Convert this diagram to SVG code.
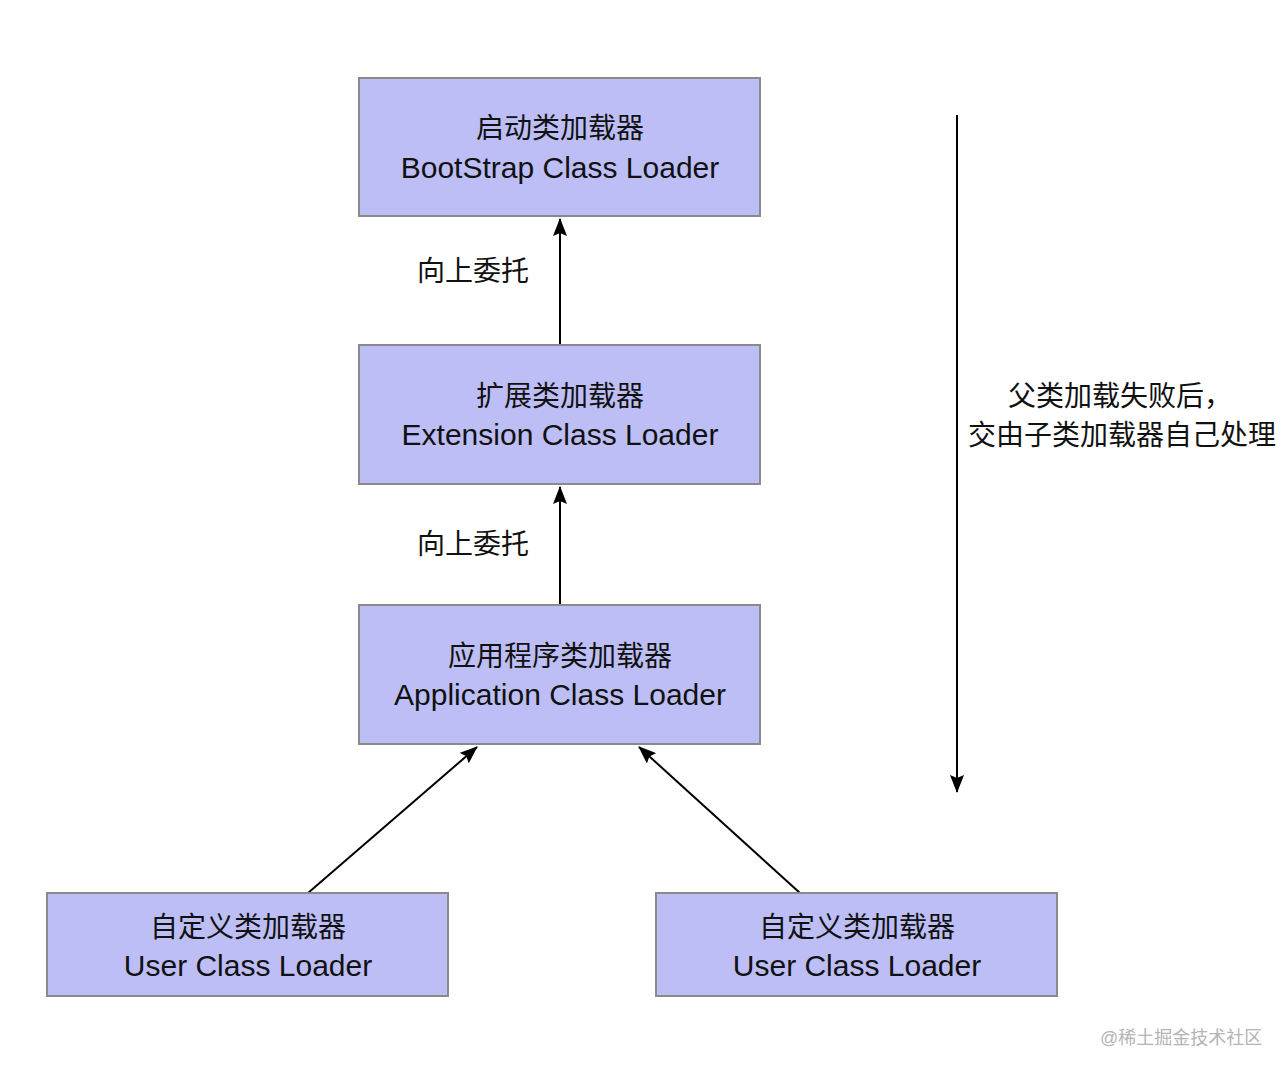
<svg xmlns="http://www.w3.org/2000/svg" width="1288" height="1074" viewBox="0 0 1288 1074">
<defs>
<style>
.box{fill:#bdbef6;stroke:#8a8a8a;stroke-width:2}
.t{font-family:"Liberation Sans","Noto Sans CJK SC",sans-serif;font-size:28px;fill:#111;text-anchor:middle}
.e{font-size:30px}
.c{fill:none;stroke:#000;stroke-width:2}
.wm{font-family:"Liberation Sans","Noto Sans CJK SC",sans-serif;font-size:18px;fill:#b4b4b4}
</style>
<marker id="a" viewBox="0 0 18 14" refX="17" refY="7" markerWidth="18" markerHeight="14" markerUnits="userSpaceOnUse" orient="auto">
<path d="M0,0 L18,7 L0,14 L3,7 z" fill="#000"/>
</marker>
</defs>
<rect width="1288" height="1074" fill="#fff"/>
<g id="connectors">
<line class="c" x1="560" y1="345" x2="560" y2="219" marker-end="url(#a)"/>
<line class="c" x1="560" y1="605" x2="560" y2="487" marker-end="url(#a)"/>
<line class="c" x1="308" y1="893" x2="477" y2="747" marker-end="url(#a)"/>
<line class="c" x1="800" y1="893" x2="639" y2="747" marker-end="url(#a)"/>
<line class="c" x1="957" y1="115" x2="957" y2="792" marker-end="url(#a)"/>
<text class="t" x="473" y="281">向上委托</text>
<text class="t" x="473" y="554">向上委托</text>
</g>
<g id="bootstrap">
<rect class="box" x="359" y="78" width="401" height="138"/>
<text class="t" x="560" y="138">启动类加载器</text>
<text class="t e" x="560" y="178">BootStrap Class Loader</text>
</g>
<g id="extension">
<rect class="box" x="359" y="345" width="401" height="139"/>
<text class="t" x="560" y="406">扩展类加载器</text>
<text class="t e" x="560" y="445">Extension Class Loader</text>
</g>
<g id="application">
<rect class="box" x="359" y="605" width="401" height="139"/>
<text class="t" x="560" y="666">应用程序类加载器</text>
<text class="t e" x="560" y="705">Application Class Loader</text>
</g>
<g id="user1">
<rect class="box" x="47" y="893" width="401" height="103"/>
<text class="t" x="248" y="937">自定义类加载器</text>
<text class="t e" x="248" y="976">User Class Loader</text>
</g>
<g id="user2">
<rect class="box" x="656" y="893" width="401" height="103"/>
<text class="t" x="857" y="937">自定义类加载器</text>
<text class="t e" x="857" y="976">User Class Loader</text>
</g>
<g id="note">
<text class="t" x="1120" y="406">父类加载失败后，</text>
<text class="t" x="1122" y="445">交由子类加载器自己处理</text>
</g>
<text class="wm" x="1100" y="1044">@稀土掘金技术社区</text>
</svg>
